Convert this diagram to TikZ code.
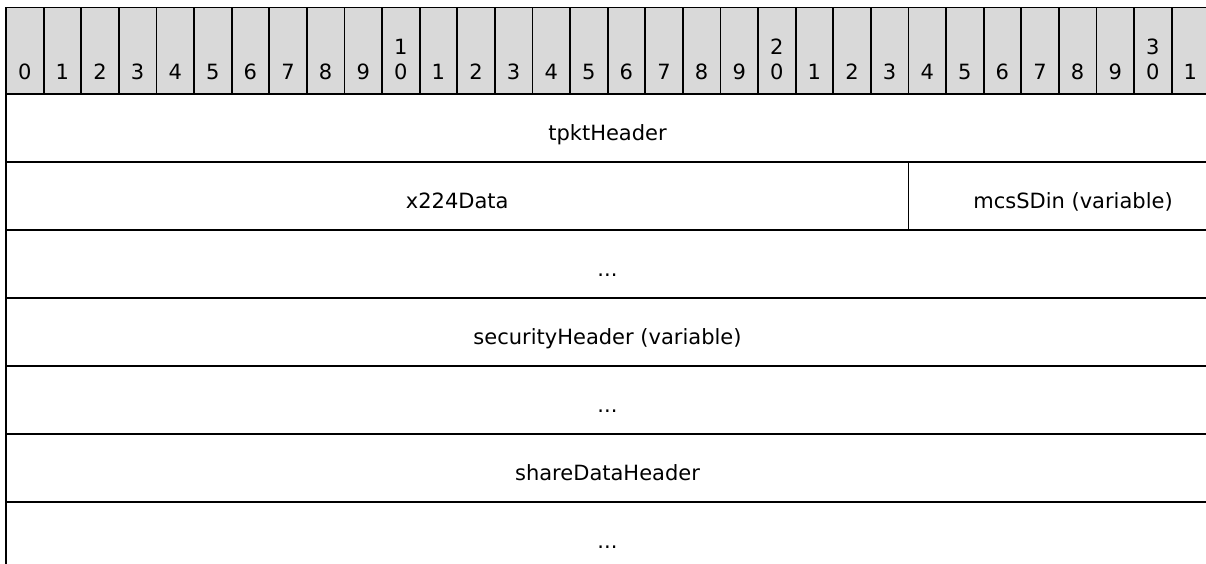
\documentclass[tikz,border=0pt]{standalone}
\usepackage{fontspec}
\setmainfont{DejaVu Sans}
\begin{document}
\begin{tikzpicture}[
    x=1pt, y=-1pt,
    rule/.style = {line width=1.8pt, line cap=rect},
    bitnum/.style = {anchor=south, inner sep=0pt, align=center, font=\fontsize{21}{25}\selectfont},
    field/.style = {anchor=base, inner sep=0pt, font=\fontsize{21}{25}\selectfont}
]
\useasboundingbox (0,0) rectangle (1206,563);
\clip (0,0) rectangle (1206,563);

% --- header row: bit numbers ---
\fill[gray!30] (6,7.5) rectangle (1220,93.7);
\foreach \i in {0,...,31} {
  \pgfmathtruncatemacro{\tens}{\i/10}
  \pgfmathtruncatemacro{\ones}{mod(\i,10)}
  \ifnum\ones=0 \ifnum\i>0 \def\bitlabel{\tens\\0}\else\def\bitlabel{0}\fi
  \else \def\bitlabel{\ones}\fi
  \node[bitnum] (bit\i) at (24.8+37.6*\i, 80) {\bitlabel};
  \ifnum\i>0 \draw[rule] (6+37.6*\i,7.5) -- (6+37.6*\i,93.7); \fi
}

% --- grid lines ---
\draw[rule] (6,7.5) -- (1220,7.5);
\draw[rule] (6,7.5) -- (6,570);
\foreach \y in {93.7,161.7,229.7,297.7,365.7,433.7,501.7}
  \draw[rule] (6,\y) -- (1220,\y);
\draw[rule] (908.4,161.7) -- (908.4,229.7);

% --- fields ---
\node[field] (tpkt) at (607.5,140.7) {tpktHeader};
\node[field] (x224) at (457.2,208.7) {x224Data};
\node[field] (mcssdin) at (1073,208.7) {mcsSDin (variable)};
\node[field] (gap1) at (607.5,276.7) {...};
\node[field] (sechdr) at (607.5,344.7) {securityHeader (variable)};
\node[field] (gap2) at (607.5,412.7) {...};
\node[field] (sharehdr) at (607.5,480.7) {shareDataHeader};
\node[field] (gap3) at (607.5,548.7) {...};

\end{tikzpicture}
\end{document}
